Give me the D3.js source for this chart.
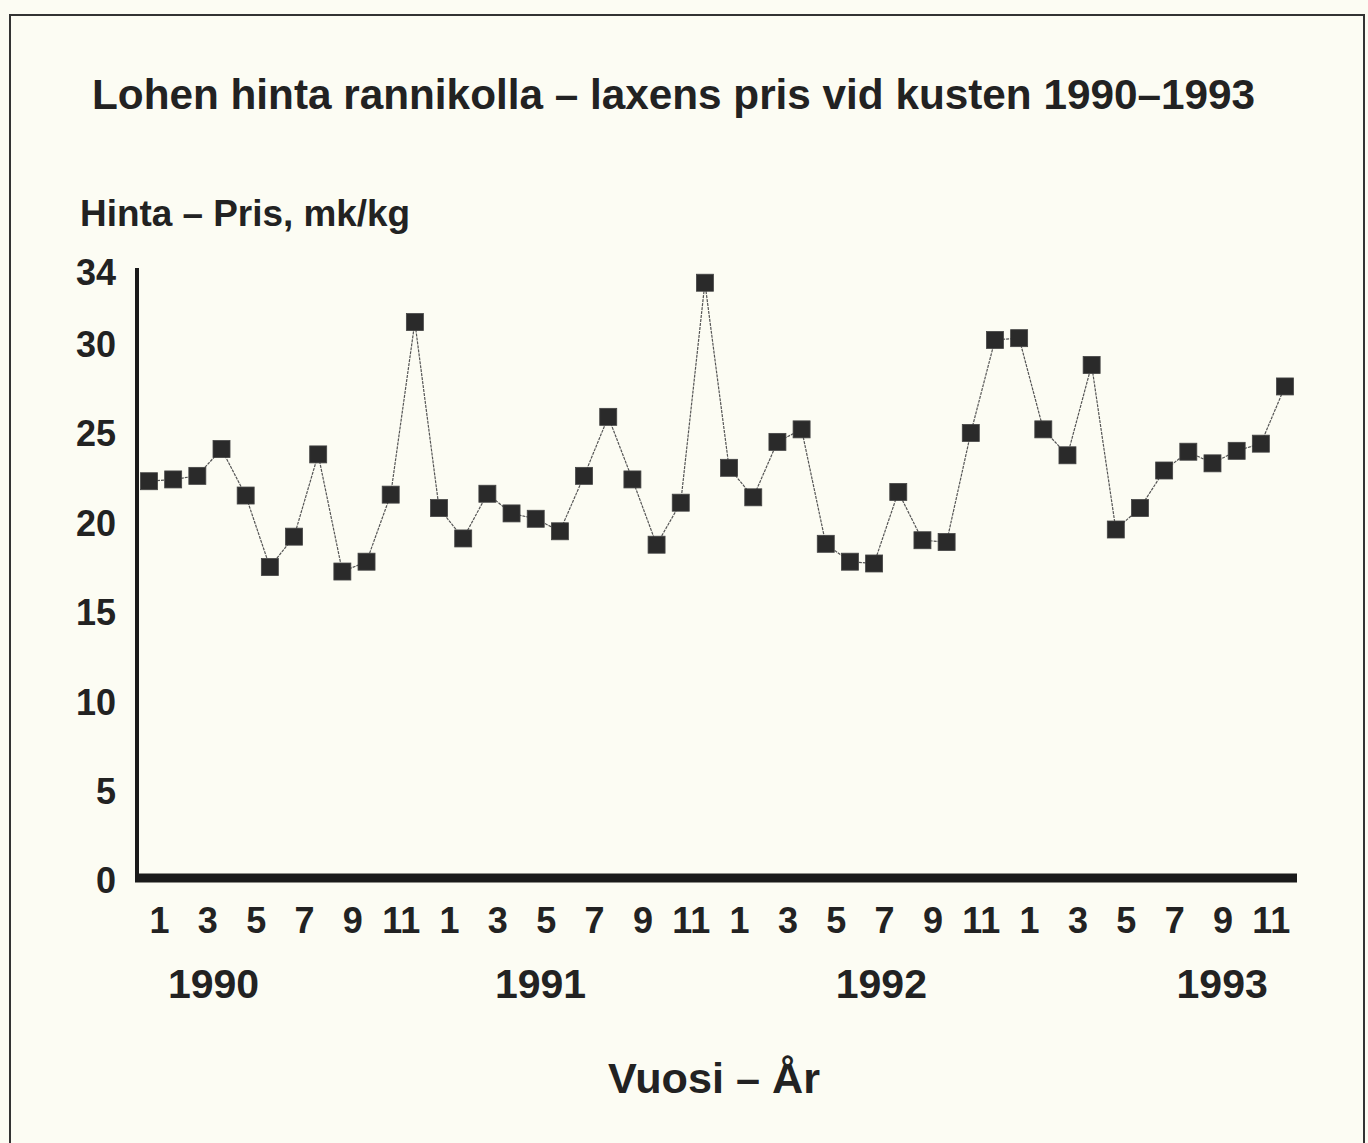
<!DOCTYPE html>
<html>
<head>
<meta charset="utf-8">
<script src="https://cdn.jsdelivr.net/npm/d3@7"></script>
<style>
body{margin:0;background:#fcfcf3;}
svg{display:block;}
text{font-family:"Liberation Sans", Arial, sans-serif;font-weight:bold;fill:#222;}
</style>
</head>
<body>
<div id="chart"></div>
<script>

// monthly price, mk/kg, Jan 1990 - Dec 1993
var years = ['1990', '1991', '1992', '1993'];
var monthLabels = [1, 3, 5, 7, 9, 11];
var yTicks = [0, 5, 10, 15, 20, 25, 30, 34];

var price1990 = [22.3, 22.4, 22.6, 24.1, 21.5, 17.5, 19.2, 23.8, 17.25, 17.8, 21.55, 31.2];
var price1991 = [20.8, 19.1, 21.6, 20.5, 20.2, 19.5, 22.6, 25.9, 22.4, 18.75, 21.1, 33.4];
var price1992 = [23.05, 21.4, 24.5, 25.2, 18.8, 17.8, 17.7, 21.7, 19.0, 18.9, 25.0, 30.2];
var price1993 = [30.3, 25.2, 23.75, 28.8, 19.6, 20.8, 22.9, 23.95, 23.3, 24.0, 24.4, 27.6];

// where the year captions sit, in month index units
var yearPos = [2.67, 16.2, 30.3, 44.4];

var drawChart = function(){

    var data = [];
    [price1990, price1991, price1992, price1993].forEach(function(arr, yi){
	for(var i=0; i<arr.length; i++){
	    data.push({idx: yi*12 + i, month: i+1, value: arr[i]});
	}
    });

    var svgWidth = 1368;
    var svgHeight = 1143;

    var svg = d3.select("#chart").append("svg")
	.attr("width", svgWidth)
	.attr("height", svgHeight);

    // frame
    svg.append("rect")
	.attr("x", 10)
	.attr("y", 15)
	.attr("width", 1354)
	.attr("height", 1200)
	.attr("fill", "none")
	.attr("stroke", "#333")
	.attr("stroke-width", 2);

    var xScale = d3.scaleLinear()
	.domain([0, 47])
	.range([149, 1285]);

    var yScale = d3.scaleLinear()
	.domain([0, 34])
	.range([880, 272]);

    // titles
    svg.append("text")
	.attr("x", 92)
	.attr("y", 109)
	.attr("font-size", 43)
	.attr("textLength", 1163)
	.attr("lengthAdjust", "spacingAndGlyphs")
	.text("Lohen hinta rannikolla \u2013 laxens pris vid kusten 1990\u20131993");

    svg.append("text")
	.attr("x", 80)
	.attr("y", 226)
	.attr("font-size", 37)
	.attr("textLength", 330)
	.attr("lengthAdjust", "spacingAndGlyphs")
	.text("Hinta \u2013 Pris, mk/kg");

    svg.append("text")
	.attr("x", 714)
	.attr("y", 1093)
	.attr("font-size", 42)
	.attr("text-anchor", "middle")
	.attr("textLength", 212)
	.attr("lengthAdjust", "spacingAndGlyphs")
	.text("Vuosi \u2013 \u00c5r");

    // y axis
    var yAxis = d3.axisLeft(yScale)
	.tickValues(yTicks)
	.tickSize(0)
	.tickPadding(21);

    var gy = svg.append("g")
	.attr("transform", "translate(137,0)")
	.call(yAxis);
    gy.select(".domain").remove();
    gy.selectAll("text")
	.attr("font-size", 36)
	.attr("font-family", "'Liberation Sans', Arial, sans-serif")
	.attr("fill", "#222")
	.attr("dy", "0.36em");

    svg.append("line")
	.attr("x1", 137).attr("x2", 137)
	.attr("y1", 268).attr("y2", 880)
	.attr("stroke", "#1a1a1a")
	.attr("stroke-width", 4);

    // x axis
    var xTickIdx = [];
    for(var yi=0; yi<years.length; yi++){
	monthLabels.forEach(function(m){ xTickIdx.push(yi*12 + m - 1); });
    }

    var xAxis = d3.axisBottom(xScale)
	.tickValues(xTickIdx)
	.tickSize(0)
	.tickPadding(29)
	.tickFormat(function(d){ return (d % 12) + 1; });

    var gx = svg.append("g")
	.attr("transform", "translate(0,878)")
	.call(xAxis);
    gx.select(".domain").remove();
    gx.selectAll("text")
	.attr("font-size", 36)
	.attr("font-family", "'Liberation Sans', Arial, sans-serif")
	.attr("fill", "#222")
	.attr("dx", 10)
	.attr("dy", "0.71em");

    svg.append("line")
	.attr("x1", 135).attr("x2", 1297)
	.attr("y1", 878).attr("y2", 878)
	.attr("stroke", "#1a1a1a")
	.attr("stroke-width", 9);

    svg.selectAll(".year")
	.data(years)
	.enter().append("text")
	.attr("class", "year")
	.attr("x", function(d, i){ return xScale(yearPos[i]); })
	.attr("y", 998)
	.attr("font-size", 41)
	.attr("text-anchor", "middle")
	.text(function(d){ return d; });

    // series
    var line = d3.line()
	.x(function(d){ return xScale(d.idx); })
	.y(function(d){ return yScale(d.value); });

    svg.append("path")
	.datum(data)
	.attr("d", line)
	.attr("fill", "none")
	.attr("stroke", "#555")
	.attr("stroke-width", 1.2)
	.attr("stroke-dasharray", "3,1");

    var size = 17;
    svg.selectAll(".pt")
	.data(data)
	.enter().append("rect")
	.attr("class", "pt")
	.attr("x", function(d){ return xScale(d.idx) - size/2; })
	.attr("y", function(d){ return yScale(d.value) - size/2; })
	.attr("width", size)
	.attr("height", size)
	.attr("fill", "#2a2a2a")
	.attr("stroke", "#444")
	.attr("stroke-width", 0.8);
};

drawChart();

</script>
</body>
</html>
